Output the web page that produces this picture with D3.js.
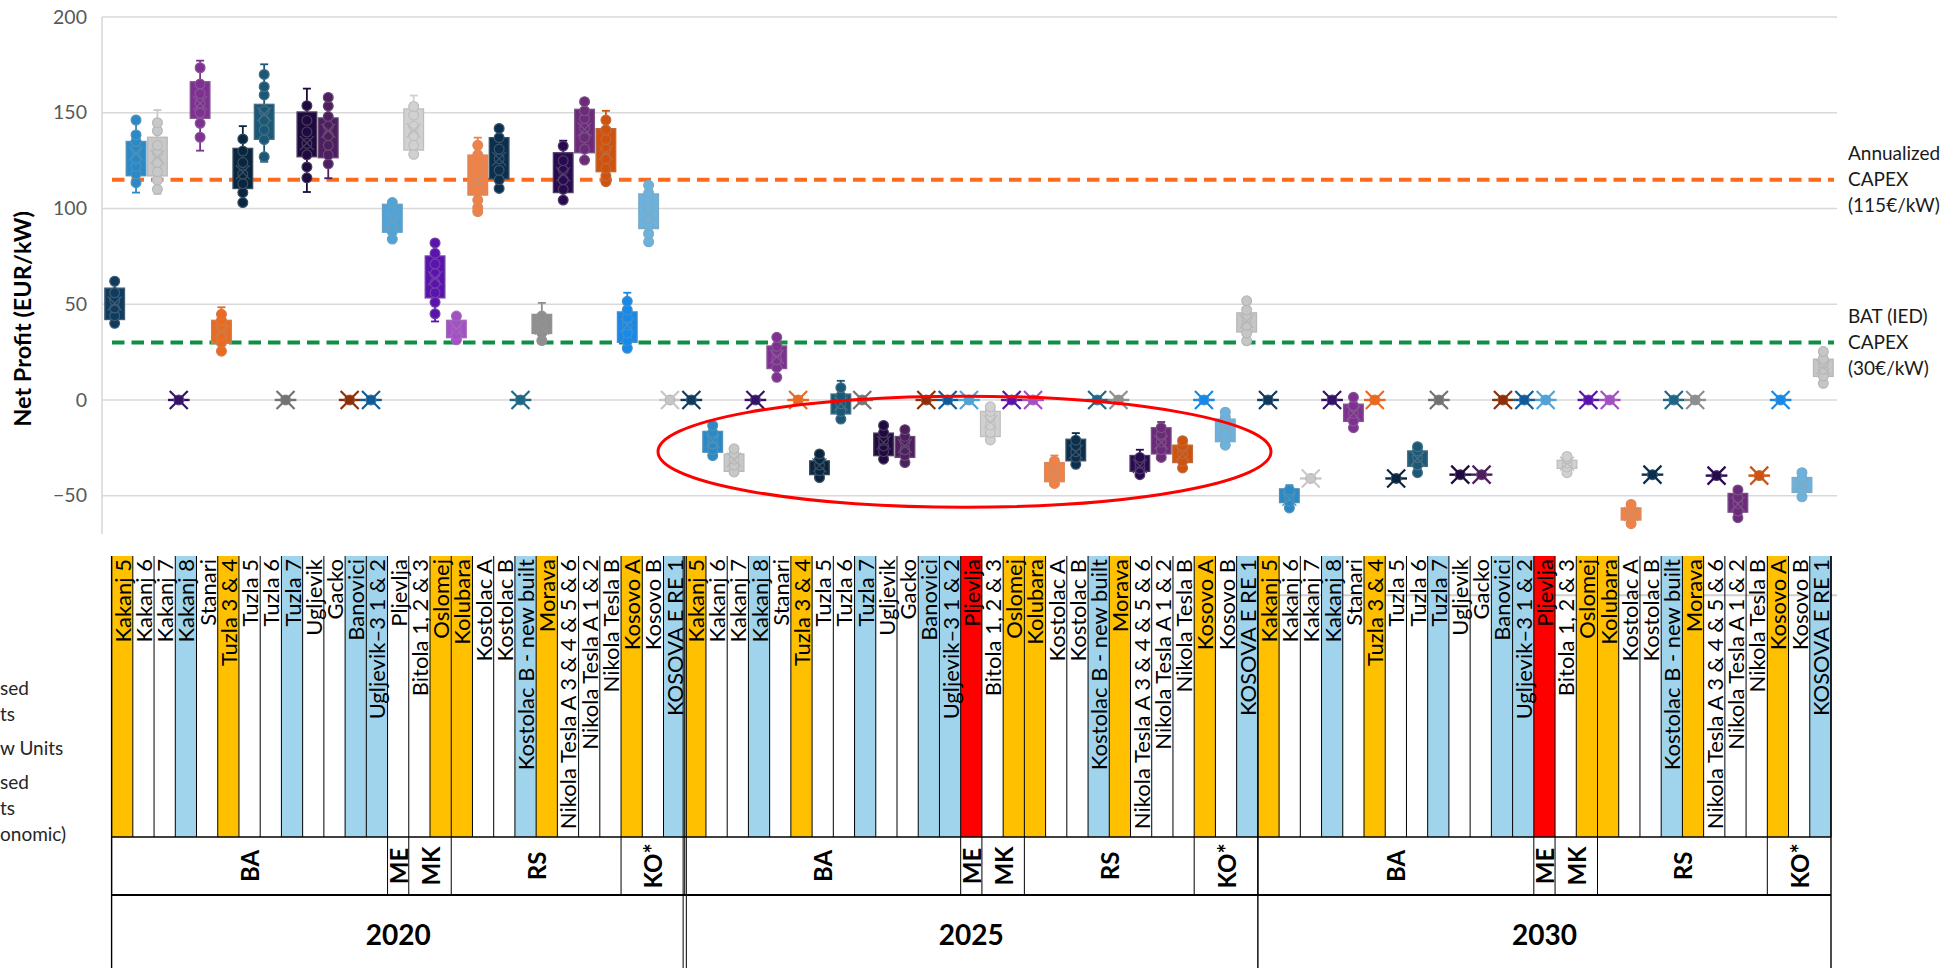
<!DOCTYPE html>
<html>
<head>
<meta charset="utf-8">
<script src="https://cdn.jsdelivr.net/npm/d3@7"></script>
<style>
  body { margin: 0; background: #fff; }
  svg { display: block; }
  text { font-family: Lato, "Open Sans", sans-serif; }
</style>
</head>
<body>
<svg id="chart" width="1946" height="968"></svg>
<script>
// ---------- data ----------
const years = ["2020", "2025", "2030"];
const units = ["Kakanj 5", "Kakanj 6", "Kakanj 7", "Kakanj 8", "Stanari", "Tuzla 3 & 4", "Tuzla 5",
  "Tuzla 6", "Tuzla 7", "Ugljevik", "Gacko", "Banovici", "Ugljevik–3 1 & 2", "Pljevlja",
  "Bitola 1, 2 & 3", "Oslomej", "Kolubara", "Kostolac A", "Kostolac B", "Kostolac B - new built",
  "Morava", "Nikola Tesla A 3 & 4 & 5 & 6", "Nikola Tesla A 1 & 2", "Nikola Tesla B",
  "Kosovo A", "Kosovo B", "KOSOVA E RE 1"];
const countries = ["BA", "ME", "MK", "RS", "KO*"];
const countrySizes = [13, 1, 2, 8, 3];
const unitColors = ["#0f3b5f", "#2a8ac7", "#c8c8c8", "#34136a", "#7f3192", "#ec6a1f", "#082640",
  "#1b5877", "#737373", "#1f0a3f", "#4d1f5f", "#8f2f08", "#0f5c9c", "#4ea3d8",
  "#d1d1d1", "#5a13ad", "#a54fc7", "#f38144", "#0b2f4e", "#1f6687",
  "#8f8f8f", "#280a4f", "#6b2a7a", "#d0520c", "#1789e8", "#6bb2de", "#c6c6c6"];

// unit status per year: c = closed, n = new, e = closed (economic)
const status2020 = ["c","","","n","","c","","","n","","","n","n","","","c","c","","","n","c","","","","c","","n"];
const status2025 = ["c","","","n","","c","","","n","","","n","n","e","","c","c","","","n","c","","","","c","","n"];
const status2030 = ["c","","","n","","c","","","n","","","n","n","e","","c","c","","","n","c","","","","c","","n"];

// box statistics per unit: [whisker low, Q1, Q3, whisker high] in EUR/kW
const boxes2020 = [
  [40, 42, 58.4, 62], [108.3, 117.1, 135, 146.2], [107.6, 117, 137.2, 151.4], [0, 0, 0, 0],
  [130.2, 147.1, 166.2, 177.2], [25.5, 29.6, 41.6, 48.4], [103.1, 110.4, 131.4, 143],
  [124.4, 136.1, 154.4, 175.3], [0, 0, 0, 0], [108.6, 127, 150.4, 162.6], [115.8, 126.5, 147.3, 158.8],
  [0, 0, 0, 0], [0, 0, 0, 0], [84, 87.6, 102.2, 103.1], [127.7, 130.5, 152, 159],
  [41, 53.3, 75.2, 82], [31.4, 32.5, 41.6, 43.8], [98.4, 107, 127.9, 137], [110.5, 115.4, 137, 141.8],
  [0, 0, 0, 0], [31, 34.7, 44.7, 50.7], [104.4, 108.3, 129.1, 135.4], [125.3, 129.1, 151.8, 155.8],
  [114, 119.2, 141.7, 151], [27, 30.1, 46, 56], [82.6, 89.5, 107.6, 112.1], [0, 0, 0, 0]];
const points2020 = [
  [40, 44, 48, 52, 56, 62], [113.5, 118, 122, 126, 131, 135, 138.4, 146.2],
  [110, 114.8, 119.2, 124, 129, 133, 140.6, 144.8], [0],
  [137.2, 144.5, 150, 155, 160, 165, 173.5], [25.5, 30, 34, 38, 41.5, 44.7],
  [103.1, 108.3, 113, 118, 124, 130, 136.3], [127, 136, 141, 146, 151, 159.3, 163.6, 170], [0],
  [116, 121.7, 128, 134, 140, 146, 153.7], [123.3, 128, 133, 138, 143, 148, 153.5, 158],
  [0], [0], [84, 88, 92, 95, 99, 103.1], [128.3, 133, 138, 143, 148.7, 153.3],
  [45, 51, 56, 61, 66, 71, 76.6, 82], [31.4, 34, 37, 40, 43.8],
  [98.4, 100.4, 104.4, 109, 114, 118, 123, 128, 133], [110.5, 115, 120, 126, 131, 137, 141.8],
  [0], [31, 35, 38, 41, 43.8], [104.4, 110, 115, 120, 125, 132.6], [125.3, 131, 137, 142, 147, 151, 155.8],
  [114, 117, 121, 126, 131, 136, 141, 146.2], [27, 31, 35, 39, 43, 47, 51.5],
  [82.6, 86.8, 91, 95, 100, 104, 108, 112.1], [0]];

const boxes2025 = [
  [0, 0, 0, 0], [-29, -27.3, -16.4, -13.3], [-37.6, -37.3, -28.2, -25.5], [0, 0, 0, 0],
  [11.8, 16.4, 28.2, 32.7], [0, 0, 0, 0], [-40.5, -39, -31.8, -28.2], [-10.9, -7.3, 3.1, 10],
  [0, 0, 0, 0], [-30.9, -29.1, -17.3, -13.3], [-32.7, -30, -19.1, -15.5], [0, 0, 0, 0], [0, 0, 0, 0],
  [0, 0, 0, 0], [-20.9, -19.1, -6, -3.6], [0, 0, 0, 0], [0, 0, 0, 0], [-43.6, -42.7, -32.7, -29],
  [-33.6, -31.8, -20.5, -17.3], [0, 0, 0, 0], [0, 0, 0, 0], [-39, -37.3, -29, -26],
  [-30, -28.2, -14.5, -11.5], [-35.5, -32.7, -23.6, -21.3], [0, 0, 0, 0], [-23.6, -21.8, -10, -6.4],
  [30.9, 35.5, 45.5, 51.8]];
const points2025 = [
  [0], [-29, -26, -23, -20, -17, -13.3], [-37.6, -34, -31, -28, -25.5], [0],
  [11.8, 17, 21, 25, 28, 32.7], [0], [-40.5, -37, -34, -31, -28.2], [-10, -6, -2, 2, 6.4],
  [0], [-30.9, -27, -24, -21, -17, -13.3], [-32.7, -29, -26, -22, -19, -15.5], [0], [0],
  [0], [-20.9, -17, -13, -9, -6, -3.6], [0], [0], [-43.6, -40, -37, -34, -32],
  [-33.6, -30, -27, -24, -21], [0], [0], [-39, -36, -33, -30],
  [-30, -26, -22, -18, -14.5], [-35.5, -32, -28, -24, -21.3], [0], [-23.6, -20, -16, -12, -9, -6.4],
  [30.9, 35, 39, 43, 47, 51.8]];

const boxes2030 = [
  [0, 0, 0, 0], [-56.4, -53.6, -46.4, -44.5], [-41, -41, -41, -41], [0, 0, 0, 0],
  [-14.5, -11.2, -2.2, 1.4], [0, 0, 0, 0], [-41, -41, -41, -41], [-38, -34.7, -26.6, -24.4],
  [0, 0, 0, 0], [-39, -39, -39, -39], [-39, -39, -39, -39], [0, 0, 0, 0], [0, 0, 0, 0],
  [0, 0, 0, 0], [-38.3, -35.7, -31.5, -29.3], [0, 0, 0, 0], [0, 0, 0, 0], [-64.6, -62.7, -56.4, -54.6],
  [-39, -39, -39, -39], [0, 0, 0, 0], [0, 0, 0, 0], [-39.5, -39.5, -39.5, -39.5],
  [-61.5, -58.6, -48.8, -47], [-39.5, -39.5, -39.5, -39.5], [0, 0, 0, 0], [-50.6, -48.3, -40.5, -38],
  [8.7, 12.3, 21.3, 25.3]];
const points2030 = [
  [0], [-56.4, -53, -50, -47], [-41], [0],
  [-14.5, -11, -7, -3, 1.4], [0], [-41], [-38, -34, -30, -26.6, -24.4],
  [0], [-39], [-39], [0], [0],
  [0], [-38, -35, -33, -31, -29.5], [0], [0], [-64.6, -61, -58, -54.6],
  [-39], [0], [0], [-39.5],
  [-61.5, -58, -54, -51, -47], [-39.5], [0], [-50.6, -47, -44, -41, -38],
  [8.7, 12.5, 16, 19, 21.5, 25.3]];

const yTicks = [-50, 0, 50, 100, 150, 200];
const refValues = [115, 30];
const refColors = ["#fa6b1e", "#0f8f45"];
const refLabels = [["Annualized", "CAPEX", "(115€/kW)"], ["BAT (IED)", "CAPEX", "(30€/kW)"]];
const legendLabels = [["Closed", "Units"], ["New Units"], ["Closed", "Units", "(economic)"]];
const statusFill = { c: "#ffc000", n: "#9fd4ec", e: "#ff0000" };
// highlighted group of 2025 units: category span and value span
const highlightCats = [25.94, 54.64];
const highlightVals = [2, -56];

// ---------- layout ----------
const svg = d3.select("#chart");
const plot = { left: 104, right: 1834, top: 17, bottom: 534 };
const nCat = years.length * units.length;

const x = d3.scaleBand().domain(d3.range(nCat)).range([plot.left, plot.right]);
const xc = d3.scaleLinear().domain([0, nCat]).range([plot.left, plot.right]);
const y = d3.scaleLinear().domain([-70, 200]).range([plot.bottom, plot.top]);

const statusByYear = [status2020, status2025, status2030];
const boxesByYear = [boxes2020, boxes2025, boxes2030];
const pointsByYear = [points2020, points2025, points2030];

const records = [];
years.forEach((yr, yi) => {
  units.forEach((u, ui) => {
    const [lo, q1, q3, hi] = boxesByYear[yi][ui];
    const pts = pointsByYear[yi][ui];
    records.push({ k: yi * units.length + ui, yi, ui, unit: u, color: unitColors[ui],
      lo, q1, q3, hi, pts, mean: d3.mean(pts), status: statusByYear[yi][ui] });
  });
});

// ---------- gridlines and axis ----------
const grid = svg.append("g");
grid.selectAll("line.grid").data(yTicks).join("line")
  .attr("x1", plot.left - 2).attr("x2", plot.right + 3)
  .attr("y1", d => y(d)).attr("y2", d => y(d))
  .attr("stroke", "#d9d9d9").attr("stroke-width", 1.6);
grid.append("line")
  .attr("x1", plot.left - 2).attr("x2", plot.left - 2)
  .attr("y1", y(200)).attr("y2", plot.bottom)
  .attr("stroke", "#d9d9d9").attr("stroke-width", 1.6);

const yAxis = d3.axisLeft(y).tickValues(yTicks).tickSize(0).tickPadding(0).tickFormat(d3.format("d"));
const yAxisG = svg.append("g").attr("transform", `translate(${plot.left - 17},0)`).call(yAxis);
yAxisG.select(".domain").remove();
yAxisG.selectAll("text").attr("font-size", 19.5).attr("fill", "#595959")
  .style("font-family", "Lato, 'Open Sans', sans-serif");

svg.append("text")
  .attr("transform", `translate(22,${y(46) + 7}) rotate(-90)`)
  .attr("text-anchor", "middle").attr("dominant-baseline", "central")
  .attr("font-size", 23.5).attr("font-weight", 700).attr("fill", "#000")
  .text("Net Profit (EUR/kW)");

// ---------- reference lines ----------
svg.append("g").selectAll("line").data(refValues).join("line")
  .attr("x1", x(0) + 8).attr("x2", plot.right)
  .attr("y1", d => y(d)).attr("y2", d => y(d))
  .attr("stroke", (d, i) => refColors[i]).attr("stroke-width", 4)
  .attr("stroke-dasharray", "12.5 7");

const refG = svg.append("g");
refLabels.forEach((lines, i) => {
  refG.append("text")
    .attr("x", plot.right + 14)
    .attr("font-size", 19).attr("fill", "#1a1a1a")
    .selectAll("tspan").data(lines).join("tspan")
    .attr("x", plot.right + 14)
    .attr("y", (d, j) => y(refValues[i]) + (j - 1) * 26 + 6)
    .text(d => d);
});

// ---------- box plots ----------
const bw = x.bandwidth() * 0.92;
const edgeOf = c => d3.interpolateRgb(c, "#9a9a9a")(0.35);
const boxG = svg.append("g");
const cell = boxG.selectAll("g.box").data(records).join("g")
  .attr("transform", d => `translate(${x(d.k) + x.bandwidth() / 2},0)`);

cell.each(function (d) {
  const g = d3.select(this);
  const edge = edgeOf(d.color);
  const flat = d.q1 === d.q3;
  if (!flat) {
    // whiskers with caps
    [[d.lo, d.q1], [d.q3, d.hi]].forEach(([a, b]) => {
      g.append("line").attr("x1", 0).attr("x2", 0).attr("y1", y(a)).attr("y2", y(b))
        .attr("stroke", d.color).attr("stroke-width", 1.8);
    });
    [d.lo, d.hi].forEach(v => {
      g.append("line").attr("x1", -4).attr("x2", 4).attr("y1", y(v)).attr("y2", y(v))
        .attr("stroke", d.color).attr("stroke-width", 1.8);
    });
    g.append("rect")
      .attr("x", -bw / 2).attr("width", bw)
      .attr("y", y(d.q3)).attr("height", y(d.q1) - y(d.q3))
      .attr("fill", d.color).attr("stroke", edge).attr("stroke-width", 1.3);
  } else {
    g.append("line").attr("x1", -bw / 2 - 1).attr("x2", bw / 2 + 1)
      .attr("y1", y(d.q1)).attr("y2", y(d.q1))
      .attr("stroke", d.color).attr("stroke-width", 2.4);
  }
  g.selectAll("circle").data(d.pts).join("circle")
    .attr("cx", 0).attr("cy", v => y(v)).attr("r", 4.9)
    .attr("fill", d.color).attr("stroke", edge).attr("stroke-width", 1.2);
  const s = flat ? 9 : 7;
  const my = y(d.mean);
  g.append("path")
    .attr("d", `M${-s},${my - s}L${s},${my + s}M${-s},${my + s}L${s},${my - s}`)
    .attr("stroke", flat ? d.color : edge).attr("stroke-width", flat ? 2.2 : 1.3)
    .attr("fill", "none");
});

// ---------- highlight ellipse ----------
svg.append("ellipse")
  .attr("cx", (xc(highlightCats[0]) + xc(highlightCats[1])) / 2)
  .attr("cy", (y(highlightVals[0]) + y(highlightVals[1])) / 2)
  .attr("rx", (xc(highlightCats[1]) - xc(highlightCats[0])) / 2)
  .attr("ry", (y(highlightVals[1]) - y(highlightVals[0])) / 2)
  .attr("fill", "none").attr("stroke", "#ff0000").attr("stroke-width", 3);

// ---------- category table ----------
const table = { left: 111.6, right: 1831, top: 556, row1: 837, row2: 895, bottom: 968 };
const xt = d3.scaleBand().domain(d3.range(nCat)).range([table.left, table.right]);
const tG = svg.append("g");
tG.append("rect").attr("x", table.left).attr("y", table.top)
  .attr("width", table.right - table.left).attr("height", table.bottom - table.top)
  .attr("fill", "#fff");

// lower gridline showing through the 2030 part of the table
tG.append("line")
  .attr("x1", xt(2 * units.length)).attr("x2", plot.right + 3)
  .attr("y1", y(-102)).attr("y2", y(-102))
  .attr("stroke", "#cfcfcf").attr("stroke-width", 2.2);

tG.selectAll("rect.cell").data(records.filter(d => d.status)).join("rect")
  .attr("x", d => xt(d.k)).attr("width", xt.bandwidth())
  .attr("y", table.top).attr("height", table.row1 - table.top)
  .attr("fill", d => statusFill[d.status]);

tG.selectAll("text.unit").data(records).join("text")
  .attr("transform", d => `translate(${xt(d.k) + xt.bandwidth() / 2},${table.top + 3}) rotate(-90)`)
  .attr("text-anchor", "end").attr("dominant-baseline", "central")
  .attr("font-size", 22).attr("fill", "#000")
  .text(d => d.unit);

// borders
const line = (x1, y1, x2, y2, w) => tG.append("line")
  .attr("x1", x1).attr("y1", y1).attr("x2", x2).attr("y2", y2)
  .attr("stroke", "#000").attr("stroke-width", w);

d3.range(nCat + 1).forEach(k => {
  const xx = k === nCat ? table.right : xt(k);
  line(xx, table.top, xx, table.row1, 1);
});
line(table.left, table.row1, table.right, table.row1, 1.4);
line(table.left, table.row2, table.right, table.row2, 2);

const countryStarts = d3.cumsum([0, ...countrySizes]);
years.forEach((yr, yi) => {
  const base = yi * units.length;
  countries.forEach((c, ci) => {
    const k0 = base + countryStarts[ci];
    const k1 = base + countryStarts[ci + 1];
    const x0 = xt(k0);
    const x1 = k1 === nCat ? table.right : xt(k1);
    line(x0, table.row1, x0, table.row2, 1);
    tG.append("text")
      .attr("transform", `translate(${(x0 + x1) / 2},${(table.row1 + table.row2) / 2}) rotate(-90)`)
      .attr("text-anchor", "middle").attr("dominant-baseline", "central")
      .attr("font-size", 24).attr("font-weight", 700).attr("fill", "#000")
      .text(c);
  });
  const xs = xt(base);
  const xe = yi === years.length - 1 ? table.right : xt(base + units.length);
  tG.append("text")
    .attr("x", (xs + xe) / 2).attr("y", 934)
    .attr("text-anchor", "middle").attr("dominant-baseline", "central")
    .attr("font-size", 28).attr("font-weight", 700).attr("fill", "#000")
    .text(yr);
});

// year separators (double rule after the first year)
line(table.left, table.top, table.left, table.bottom, 1.4);
line(table.right, table.top, table.right, table.bottom, 1.4);
const sep1 = xt(units.length);
line(sep1 - 1.6, table.top, sep1 - 1.6, table.bottom, 1);
line(sep1 + 1.6, table.top, sep1 + 1.6, table.bottom, 1);
const sep2 = xt(2 * units.length);
line(sep2, table.top, sep2, table.bottom, 1.4);

// ---------- status legend ----------
// the legend column starts left of the page edge; only the characters of each
// label that show at least a few pixels inside the page are written out
const legG = svg.append("g");
const legendX = -29;
let ly = 687;
legendLabels.forEach(lines => {
  lines.forEach(full => {
    const t = legG.append("text").attr("x", legendX).attr("y", ly)
      .attr("dominant-baseline", "central")
      .attr("font-size", 19).attr("fill", "#262626").text(full);
    const node = t.node();
    let i = 0;
    while (i < full.length - 1) {
      const ext = node.getExtentOfChar(i);
      if (ext.x + ext.width >= 4) break;
      i++;
    }
    const sx = Math.max(0, node.getStartPositionOfChar(i).x);
    t.attr("x", sx).text(full.slice(i));
    ly += 26;
  });
  ly += 8;
});
</script>
</body>
</html>
